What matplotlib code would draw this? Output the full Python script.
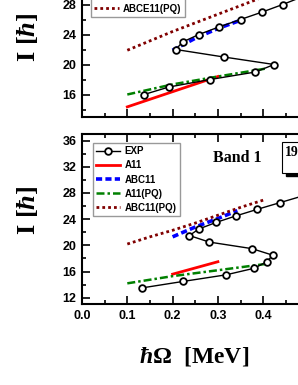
import matplotlib
matplotlib.use('Agg')
import matplotlib.pyplot as plt
from matplotlib.ticker import MultipleLocator
from matplotlib.patches import Rectangle

# ---- data ----
# upper panel
top_exp_w = [0.137, 0.192, 0.283, 0.383, 0.424, 0.313, 0.207, 0.222, 0.258, 0.302, 0.350, 0.398, 0.443, 0.485]
top_exp_i = [16, 17, 18, 19, 20, 21, 22, 23, 24, 25, 26, 27, 28, 29]
top_a11_w = [0.10, 0.30]
top_a11_i = [14.35, 18.4]
top_abc11_w = [0.20, 0.25, 0.30, 0.35]
top_abc11_i = [21.9, 23.5, 24.8, 25.9]
top_a11pq_w = [0.10, 0.20, 0.30, 0.41]
top_a11pq_i = [16.0, 17.35, 18.4, 19.5]
top_abce11pq_w = [0.10, 0.20, 0.30, 0.40]
top_abce11pq_i = [21.9, 24.4, 26.7, 29.0]
top_labels = ['EXP', 'A11', 'ABC11', 'A11(PQ)', 'ABCE11(PQ)']

# lower panel (Band 1)
exp_w = [0.132, 0.224, 0.318, 0.380, 0.408, 0.421, 0.375, 0.281, 0.237, 0.258, 0.296, 0.340, 0.387, 0.436, 0.485]
exp_i = [13.5, 14.5, 15.5, 16.5, 17.5, 18.5, 19.5, 20.5, 21.5, 22.5, 23.5, 24.5, 25.5, 26.5, 27.5]
a11_w = [0.20, 0.30]
a11_i = [15.6, 17.5]
abc11_w = [0.20, 0.25, 0.30, 0.343]
abc11_i = [21.3, 22.8, 24.1, 25.3]
a11pq_w = [0.10, 0.20, 0.30, 0.41]
a11pq_i = [14.2, 15.3, 16.2, 17.2]
abc11pq_w = [0.10, 0.15, 0.20, 0.25, 0.30, 0.35, 0.40]
abc11pq_i = [20.2, 21.3, 22.3, 23.4, 24.6, 25.8, 26.9]
bot_labels = ['EXP', 'A11', 'ABC11', 'A11(PQ)', 'ABC11(PQ)']

plt.rcParams['font.family'] = 'Liberation Sans'
plt.rcParams['font.weight'] = 'bold'
plt.rcParams['mathtext.fontset'] = 'custom'
plt.rcParams['mathtext.rm'] = 'Liberation Serif:bold'
plt.rcParams['mathtext.it'] = 'Liberation Serif:italic:bold'
plt.rcParams['mathtext.bf'] = 'Liberation Serif:bold'

W, H = 298, 385
fig = plt.figure(figsize=(W / 100, H / 100), dpi=100)

px_per_x = 453.0  # pixels per 1.0 of hbar*Omega
xmax = 0.6
left = 82 / W
width = xmax * px_per_x / W

ax_top = fig.add_axes([left, (H - 117) / H, width, 177 / H])
ax_bot = fig.add_axes([left, (H - 304.3) / H, width, 170.3 / H])


def style(ax, ylo, yhi):
    ax.set_xlim(0, xmax)
    ax.set_ylim(ylo, yhi)
    ax.xaxis.set_major_locator(MultipleLocator(0.1))
    ax.xaxis.set_minor_locator(MultipleLocator(0.05))
    ax.yaxis.set_major_locator(MultipleLocator(4))
    ax.yaxis.set_minor_locator(MultipleLocator(2))
    ax.tick_params(which='both', direction='in', top=True, right=True, width=1.2)
    ax.tick_params(which='major', length=5.5, labelsize=9, pad=4)
    ax.tick_params(which='minor', length=3)
    for s in ax.spines.values():
        s.set_linewidth(1.5)
    for lab in ax.get_xticklabels() + ax.get_yticklabels():
        lab.set_fontweight('bold')


def draw(ax, data, labels):
    (ew, ei), (aw, ai), (bw, bi), (gw, gi), (dw, di) = data
    ax.plot(ew, ei, '-o', color='black', lw=1.0, ms=4.8, mfc='white', mec='black', mew=1.3, label=labels[0], zorder=5)
    ax.plot(aw, ai, '-', color='#ff0000', lw=2.0, label=labels[1])
    ax.plot(bw, bi, color='#0000ff', lw=2.6, ls=(0, (1.7, 0.9)), label=labels[2])
    ax.plot(gw, gi, color='#008000', lw=1.8, ls=(0, (3.2, 1.2, 1, 1.2)), label=labels[3])
    ax.plot(dw, di, color='#800000', lw=2.0, ls=(0, (1, 1.1)), label=labels[4])


draw(ax_top, [(top_exp_w, top_exp_i), (top_a11_w, top_a11_i), (top_abc11_w, top_abc11_i),
              (top_a11pq_w, top_a11pq_i), (top_abce11pq_w, top_abce11pq_i)], top_labels)
draw(ax_bot, [(exp_w, exp_i), (a11_w, a11_i), (abc11_w, abc11_i),
              (a11pq_w, a11pq_i), (abc11pq_w, abc11pq_i)], bot_labels)

style(ax_top, 13, 13 + 177 / 7.5)
style(ax_bot, 11, 37)
ax_top.tick_params(labelbottom=False)

leg_kw = dict(frameon=True, fancybox=False, edgecolor='#808080', borderpad=0.35,
              handlelength=2.5, handletextpad=0.4, labelspacing=0.42, borderaxespad=0,
              prop={'weight': 'bold', 'size': 7})
lt = ax_top.legend(loc='lower left', bbox_to_anchor=(9 / (xmax * px_per_x), (117 - 17) / 177), **leg_kw)
lb = ax_bot.legend(loc='upper left', bbox_to_anchor=(10.7 / (xmax * px_per_x), 1 - 9 / 170.3), **leg_kw)
for lg in (lt, lb):
    lg.get_frame().set_linewidth(1.0)

fig.text(237 / W, 1 - 158 / H, 'Band 1', ha='center', va='center', fontsize=11.5,
         fontweight='bold', family='Liberation Serif')

# label box at the right edge of the lower panel
fig.patches.append(Rectangle((285.5 / W, (H - 175.5) / H), 40 / W, 31 / H, transform=fig.transFigure,
                             facecolor='black', edgecolor='black', zorder=8))
fig.patches.append(Rectangle((281.7 / W, (H - 172.7) / H), 40 / W, 31 / H, transform=fig.transFigure,
                             facecolor='white', edgecolor='black', lw=0.8, zorder=9))
fig.text(285 / W, (H - 153) / H, '194Tl', ha='left', va='center', fontsize=10, fontweight='bold',
         family='Liberation Serif', zorder=10)

fig.text(27 / W, 1 - 37 / H, r'$\mathrm{I}\ [ħ]$', rotation=90, ha='center', va='center', fontsize=19)
fig.text(27 / W, 1 - 210 / H, r'$\mathrm{I}\ [ħ]$', rotation=90, ha='center', va='center', fontsize=19)
fig.text(194 / W, 1 - 357 / H, r'$ħΩ\ \ [\mathrm{MeV}]$', ha='center', va='center', fontsize=17)

fig.savefig('out.png', dpi=100)
